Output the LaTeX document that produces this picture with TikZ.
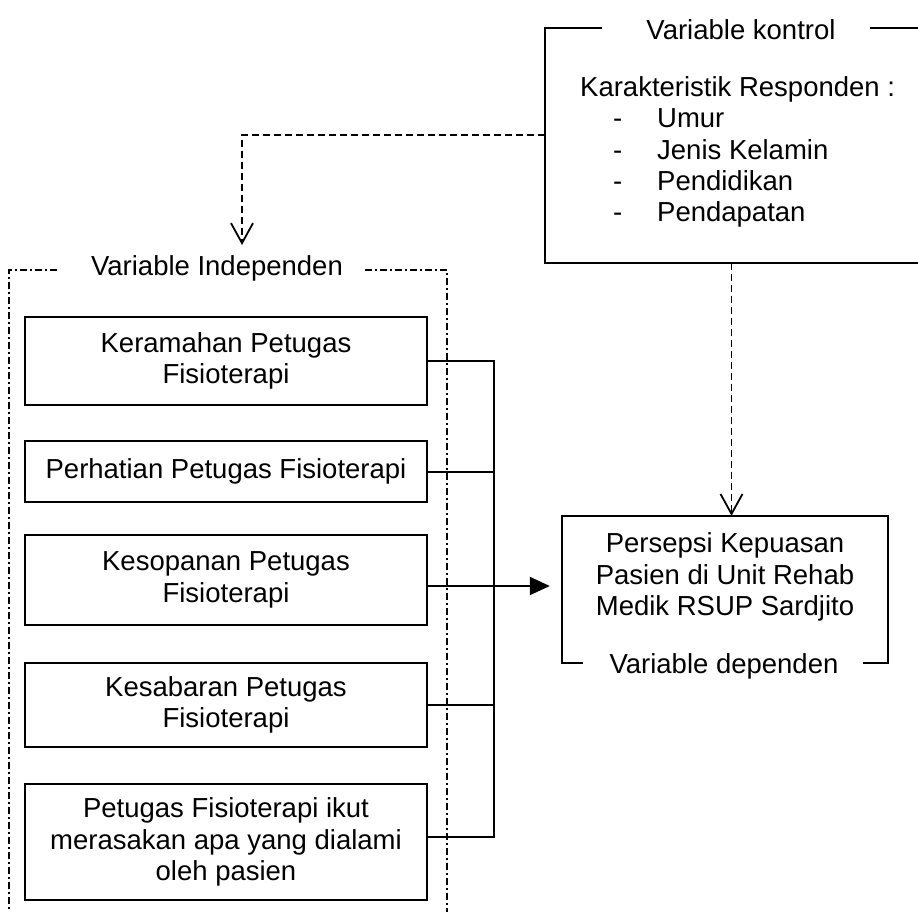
\documentclass[tikz,border=0pt]{standalone}
\usepackage{fontspec}
\setmainfont{Liberation Sans}
\usetikzlibrary{arrows.meta,calc}
\begin{document}
\begin{tikzpicture}[x=1pt,y=-1pt,
  every node/.style={font=\fontsize{27.5}{31.3}\selectfont},
  vbox/.style={draw,line width=2pt,minimum width=402pt,inner sep=0pt,align=center},
  ln/.style={line width=2pt},
  dashln/.style={line width=1.8pt,dash pattern=on 7pt off 4pt},
  dotdash/.style={line width=1.8pt,dash pattern=on 7pt off 3pt on 2pt off 3pt},
  openarrow/.style={-{Straight Barb[length=20pt,width=22pt,line width=1.8pt]}},
  solidarrow/.style={-{Triangle[length=20pt,width=18pt]}}
]
\useasboundingbox (0,0) rectangle (918,912);

% ---- control variable frame
\node[minimum width=373pt, minimum height=235pt, inner sep=0pt] (kon) at (731.5,145.5) {};
\draw[ln] ($(kon.north west)+(57,0)$) -- (kon.north west) -- (kon.south west) -- (kon.south east);
\draw[ln] ($(kon.north east)+(-48,0)$) -- (kon.north east);
\node (kontitle) at (741,30) {Variable kontrol};
\node[anchor=west, align=left, inner sep=0pt] (karak) at (580,152) {Karakteristik Responden :\\
\hspace*{33pt}\makebox[44pt][l]{-}Umur\\
\hspace*{33pt}\makebox[44pt][l]{-}Jenis Kelamin\\
\hspace*{33pt}\makebox[44pt][l]{-}Pendidikan\\
\hspace*{33pt}\makebox[44pt][l]{-}Pendapatan};

% ---- independent frame
\draw[dotdash] (57,270) -- (9,270) -- (9,930);
\draw[dotdash] (365,270) -- (447,270) -- (447,930);
\node (indtitle) at (217,268) {Variable Independen};

% ---- independent boxes
\node[vbox, minimum height=88pt] (b1) at (226,361) {Keramahan Petugas\\Fisioterapi};
\node[vbox, minimum height=61pt] (b2) at (226,471.5) {Perhatian Petugas Fisioterapi};
\node[vbox, minimum height=90pt] (b3) at (226,580) {Kesopanan Petugas\\Fisioterapi};
\node[vbox, minimum height=84pt] (b4) at (226,705) {Kesabaran Petugas\\Fisioterapi};
\node[vbox, minimum height=116pt] (b5) at (226,842) {Petugas Fisioterapi ikut\\merasakan apa yang dialami\\oleh pasien};

% ---- dependent frame
\node[minimum width=326pt, minimum height=147pt, inner sep=0pt] (dep) at (725,589.5) {};
\draw[ln] ($(dep.south west)+(21,0)$) -- (dep.south west) -- (dep.north west) -- (dep.north east) -- (dep.south east) -- ++(-25,0);
\node[align=center] (deptext) at (725,577) {Persepsi Kepuasan\\Pasien di Unit Rehab\\Medik RSUP Sardjito};
\node (deplab) at (724,666) {Variable dependen};

% ---- connectors
\coordinate (bus) at (494,0);
\coordinate (kc) at (kon.west |- 0,135);
\coordinate (it) at (242,245);
\draw[dashln, openarrow] (kc) -| (it);
\draw[dashln, openarrow] (kon.south) -- (kon.south |- dep.north);

\draw[ln] (b1.east) -- (b1.east -| bus) -- ([yshift=5pt]b5.east -| bus) -- ([yshift=5pt]b5.east);
\draw[ln] (b2.east) -- (b2.east -| bus);
\draw[ln] ([yshift=-6pt]b3.east) -- ([yshift=-6pt]b3.east -| bus);
\draw[ln] (b4.east) -- (b4.east -| bus);
\draw[ln, solidarrow, shorten >=12pt] ([yshift=-6pt]b3.east -| bus) -- ([yshift=-6pt]b3.east -| dep.west);
\end{tikzpicture}
\end{document}
